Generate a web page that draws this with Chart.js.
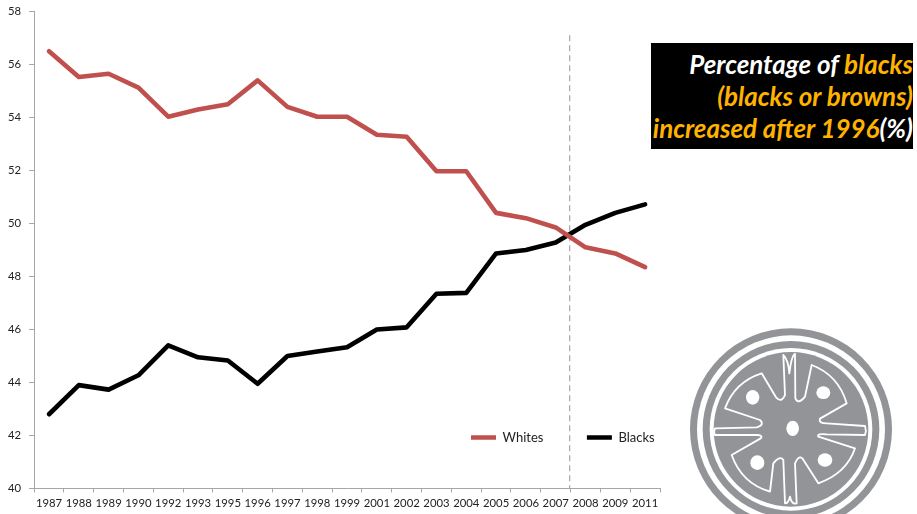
<!DOCTYPE html>
<html><head><meta charset="utf-8">
<script src="https://cdn.jsdelivr.net/npm/chart.js@4"></script>
<style>
html,body{margin:0;padding:0;background:#fff;overflow:hidden}
#wrap{position:relative;width:917px;height:514px;overflow:hidden}
#c{position:absolute;left:0;top:0}
#note{position:absolute;left:651px;top:43px;width:262px;height:106px;background:#000;color:#ffb300;font:italic 700 25.95px/32px Lato,sans-serif;text-align:right;white-space:nowrap;overflow:hidden;padding-top:5px;box-sizing:border-box}
#note b{color:#fff;font-weight:700}
#logo{position:absolute;left:670px;top:325px}
</style></head><body>
<div id="wrap">
<canvas id="c" width="917" height="514"></canvas>
<div id="note"><b>Percentage of </b>blacks<br>(blacks or browns)<br>increased after 1996<b>(%)</b></div>
<svg id="logo" width="247" height="189" viewBox="0 -45 741 567">
<circle cx="363" cy="268" r="303" fill="#929497"/>
<circle cx="363" cy="268" r="282" fill="#fff"/>
<circle cx="363" cy="268" r="265" fill="#929497"/>
<circle cx="363" cy="268" r="244" fill="#fff"/>
<circle cx="363" cy="268" r="232" fill="#929497"/>
<path fill="none" stroke="#fff" stroke-width="5.5" stroke-linejoin="round" d="M165 205Q195 125 275 100L318 172Q335 190 345 165L340 45Q355 60 358 100Q365 45 375 42L376 175Q385 195 405 170L425 75Q505 105 530 190L450 236Q445 250 470 250L585 258Q590 272 585 285L470 283Q440 280 445 290L555 325Q530 400 445 430L397 355Q385 345 375 370L380 490Q365 495 360 470Q355 490 345 490L340 360Q330 345 310 370L300 455Q215 430 185 345L272 295Q280 285 260 285L135 285Q130 275 135 265L260 262Q285 255 270 240Z"/>
<ellipse cx="248" cy="172" rx="20" ry="22" fill="#fff"/>
<ellipse cx="460" cy="158" rx="21" ry="19" fill="#fff"/>
<ellipse cx="262" cy="368" rx="21" ry="22" fill="#fff"/>
<ellipse cx="465" cy="360" rx="22" ry="20" fill="#fff"/>
<ellipse cx="368" cy="265" rx="19" ry="23" fill="#fff"/>
</svg>
</div>
<script>
const categories=["1987","1988","1989","1990","1992","1993","1995","1996","1997","1998","1999","2001","2002","2003","2004","2005","2006","2007","2008","2009","2011"];
const whites=[56.5,55.53,55.65,55.13,54.03,54.3,54.5,55.4,54.4,54.03,54.03,53.35,53.27,51.97,51.97,50.4,50.2,49.85,49.1,48.87,48.35];
const blacks=[42.8,43.9,43.73,44.27,45.4,44.95,44.83,43.95,45,45.17,45.33,46,46.08,47.35,47.38,48.87,49,49.28,49.95,50.4,50.72];
const FONT='Lato,sans-serif';
const guide={id:'guide',beforeDatasetsDraw(ch){const x=ch.scales.x.getPixelForValue(17.47),y=ch.scales.y;const c=ch.ctx;c.save();c.strokeStyle='#a6a6a6';c.lineWidth=1.2;c.setLineDash([6,4]);c.beginPath();c.moveTo(x,y.getPixelForValue(57.1));c.lineTo(x,y.getPixelForValue(40));c.stroke();c.restore();}};
const placeLegend={id:'placeLegend',afterLayout(ch){const l=ch.legend;l.left=427.5;l.right=917;l.top=387.5;l.bottom=470;}};
new Chart(document.getElementById('c'),{type:'line',
data:{labels:categories,datasets:[
{label:'Whites',data:whites,borderColor:'#c0504d',backgroundColor:'#c0504d',borderWidth:4.6,pointRadius:0,tension:0,borderCapStyle:'round',borderJoinStyle:'round',pointStyle:'line'},
{label:'Blacks',data:blacks,borderColor:'#000',backgroundColor:'#000',borderWidth:4.6,pointRadius:0,tension:0,borderCapStyle:'round',borderJoinStyle:'round',pointStyle:'line'}]},
plugins:[guide,placeLegend],
options:{responsive:false,animation:false,devicePixelRatio:1,
layout:{autoPadding:false,padding:{left:0,right:257,top:11.5,bottom:-66.5}},
plugins:{title:{display:false},tooltip:{enabled:false},
legend:{position:'bottom',align:'start',labels:{usePointStyle:true,pointStyleWidth:25,padding:43.5,color:'#222',font:{family:FONT,size:13},boxHeight:13}}},
scales:{
x:{offset:true,grid:{offset:true,drawOnChartArea:false,color:'#a6a6a6',tickLength:4,tickColor:'#a6a6a6'},border:{color:'#a6a6a6',width:1},ticks:{color:'#222',font:{family:FONT,size:11.3},maxRotation:0,autoSkip:false,padding:4}},
y:{afterFit(s){s.paddingTop=0;s.paddingBottom=0;},min:40,max:58,grid:{drawOnChartArea:false,tickLength:5,color:'#a6a6a6'},border:{color:'#a6a6a6',width:1},ticks:{stepSize:2,color:'#222',font:{family:FONT,size:11.3},padding:8}}
}}});
</script>
</body></html>
